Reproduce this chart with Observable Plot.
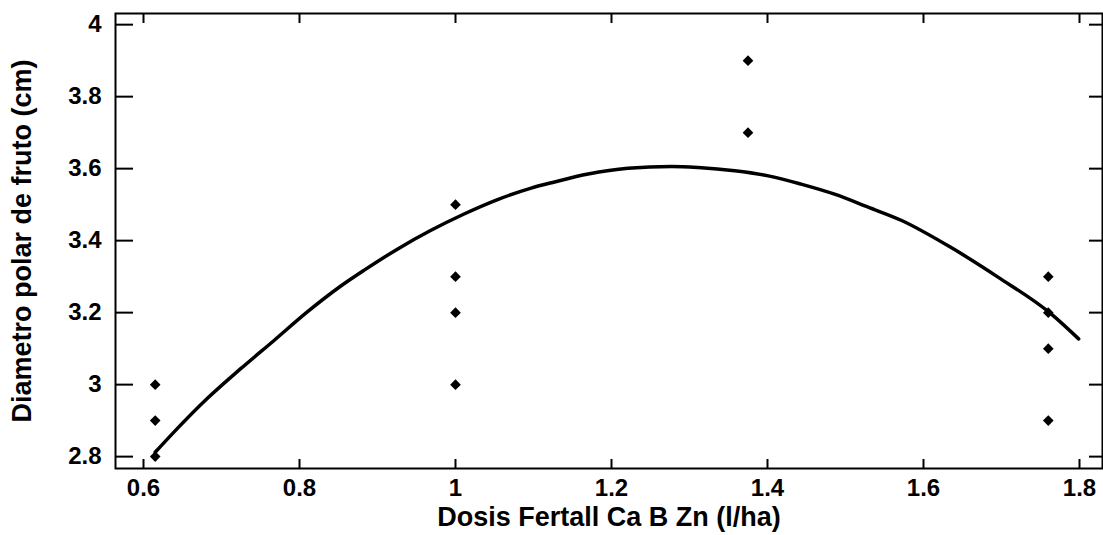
<!DOCTYPE html>
<html>
<head>
<meta charset="utf-8">
<script src="https://cdn.jsdelivr.net/npm/d3@7"></script>
<script src="https://cdn.jsdelivr.net/npm/@observablehq/plot@0.6"></script>
<style>
  html, body { margin: 0; padding: 0; background: #fff; }
  svg { display: block; }
</style>
</head>
<body>
<div id="chart"></div>
<script>
// Observed data (dose l/ha, polar fruit diameter cm)
const obsDose = [0.615, 0.615, 0.615, 1.0, 1.0, 1.0, 1.0, 1.375, 1.375, 1.76, 1.76, 1.76, 1.76];
const obsDiam = [3.0, 2.9, 2.8, 3.5, 3.3, 3.2, 3.0, 3.9, 3.7, 3.3, 3.2, 3.1, 2.9];

// Fitted curve
const fitDose = [0.615, 0.639, 0.682, 0.725, 0.767, 0.810, 0.853, 0.883, 0.926, 0.968, 1.011, 1.054, 1.097, 1.127, 1.170, 1.221, 1.277, 1.311, 1.358, 1.401, 1.443, 1.486, 1.529, 1.572, 1.636, 1.696, 1.764, 1.799];
const fitDiam = [2.812, 2.868, 2.962, 3.045, 3.122, 3.202, 3.274, 3.318, 3.377, 3.428, 3.474, 3.514, 3.546, 3.563, 3.585, 3.601, 3.606, 3.603, 3.594, 3.580, 3.557, 3.529, 3.493, 3.456, 3.380, 3.298, 3.196, 3.127];

const xTicks = [0.6, 0.8, 1.0, 1.2, 1.4, 1.6, 1.8];
const yTicks = [2.8, 3.0, 3.2, 3.4, 3.6, 3.8, 4.0];
const xTitle = "Dosis Fertall Ca B Zn (l/ha)";
const yTitle = "Diametro polar de fruto (cm)";

const points = obsDose.map((d, i) => ({dose: d, diam: obsDiam[i]}));
const curve = fitDose.map((d, i) => ({dose: d, diam: fitDiam[i]}));
const fmt = d3.format("~g");
const font = "'Liberation Sans', Arial, sans-serif";

const chart = Plot.plot({
  width: 1103,
  height: 535,
  marginLeft: 115,
  marginRight: 1,
  marginTop: 13,
  marginBottom: 67,
  style: {fontFamily: font, fontWeight: "bold", fontSize: "24px", color: "#000", background: "#fff"},
  x: {domain: [0.5641, 1.8295]},
  y: {domain: [2.767, 4.031]},
  marks: [
    Plot.frame({stroke: "#000", strokeWidth: 2}),
    // inward ticks
    Plot.axisX({anchor: "bottom", ticks: xTicks, tickSize: -9, tickFormat: () => "", label: null, strokeWidth: 2}),
    Plot.axisX({anchor: "top", ticks: xTicks, tickSize: -9, tickFormat: () => "", label: null, strokeWidth: 2}),
    Plot.axisY({anchor: "left", ticks: yTicks, tickSize: -18, tickFormat: () => "", label: null, strokeWidth: 2}),
    Plot.axisY({anchor: "right", ticks: yTicks, tickSize: -14, tickFormat: () => "", label: null, strokeWidth: 2}),
    // tick labels
    Plot.axisX({anchor: "bottom", ticks: xTicks, tickSize: 0, tickPadding: 10, tickFormat: fmt, label: null, fontSize: 24, fontWeight: "bold"}),
    Plot.axisY({anchor: "left", ticks: yTicks, tickSize: 0, tickPadding: 14, tickFormat: fmt, label: null, fontSize: 24, fontWeight: "bold"}),
    // titles
    Plot.text([xTitle], {text: d => d, frameAnchor: "bottom", textAnchor: "middle", dy: 57, fontSize: 27, fontWeight: "bold", fill: "#000"}),
    Plot.text([yTitle], {text: d => d, frameAnchor: "left", textAnchor: "middle", dx: -93, rotate: -90, fontSize: 27, fontWeight: "bold", fill: "#000"}),
    // curve and points
    Plot.line(curve, {x: "dose", y: "diam", stroke: "#000", strokeWidth: 3.5, curve: "monotone-x"}),
    Plot.dot(points, {x: "dose", y: "diam", symbol: "diamond2", r: 4.8, fill: "#000", stroke: "none"})
  ]
});
document.getElementById("chart").appendChild(chart);
</script>
</body>
</html>
